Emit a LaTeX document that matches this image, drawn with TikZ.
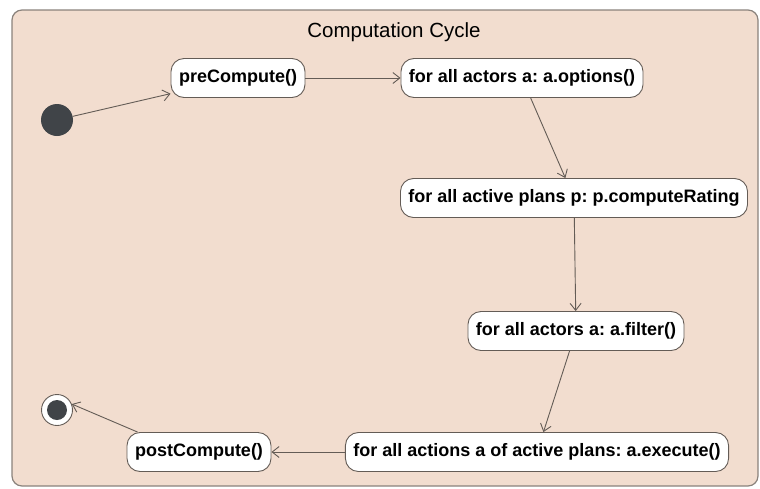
\documentclass[tikz,border=0pt]{standalone}
\usepackage{fontspec}
\setmainfont{Liberation Sans}
\usetikzlibrary{arrows.meta, positioning}

\definecolor{cyclebg}{RGB}{242,221,207}
\definecolor{cycleframe}{RGB}{138,130,124}
\definecolor{edgegray}{RGB}{100,92,86}
\definecolor{dotgray}{RGB}{64,68,72}
\frenchspacing

\begin{document}
\begin{tikzpicture}[
        x=1pt, y=-1pt,
        % styles
        container/.style={rectangle, rounded corners=10pt, draw=cycleframe, fill=cyclebg, line width=1.2pt, minimum width=746pt, minimum height=476pt},
        activity/.style={rectangle, rounded corners=13pt, draw=edgegray, fill=white, line width=0.9pt, minimum height=39pt, inner xsep=8pt, font=\bfseries\fontsize{18}{20}\selectfont},
        initial/.style={circle, fill=dotgray, minimum size=32pt, inner sep=0pt},
        final/.style={circle, draw=edgegray, fill=white, minimum size=31pt, inner sep=0pt, line width=0.9pt,
            path picture={\fill[dotgray] (path picture bounding box.center) circle (10pt);}},
        arrow/.style={draw=edgegray, line width=0.9pt, -{Straight Barb[length=7pt, width=11pt]}} ]

    \useasboundingbox (0,0) rectangle (760,488);

    % --- CONTAINER ---
    \node (cycle) [container] at (385,248) {};
    \node (title) [font=\fontsize{20.5}{22}\selectfont] at (394,32) {Computation Cycle};

    % --- TOP ROW ---
    \node (init) [initial] at (57,120) {};
    \node (pre)  [activity] at (238,78) {preCompute()};
    \node (opt)  [activity] at (522,78) {for all actors a: a.options()};

    % --- RIGHT COLUMN ---
    \node (rate) [activity] at (574,198) {for all active plans p: p.computeRating};
    \node (filt) [activity] at (576,331) {for all actors a: a.filter()};

    % --- BOTTOM ROW ---
    \node (exec) [activity] at (537,452) {for all actions a of active plans: a.execute()};
    \node (post) [activity] at (199,452) {postCompute()};
    \node (fin)  [final] at (57,410) {};

    % --- CONNECTIONS ---
    \draw [arrow] (init) -- (pre);
    \draw [arrow] (pre) -- (opt);
    \draw [arrow] (opt) -- (rate);
    \draw [arrow] (rate) -- (filt);
    \draw [arrow] (filt) -- (exec);
    \draw [arrow] (exec) -- (post);
    \draw [arrow] (post.162) -- (fin.22);

\end{tikzpicture}
\end{document}
